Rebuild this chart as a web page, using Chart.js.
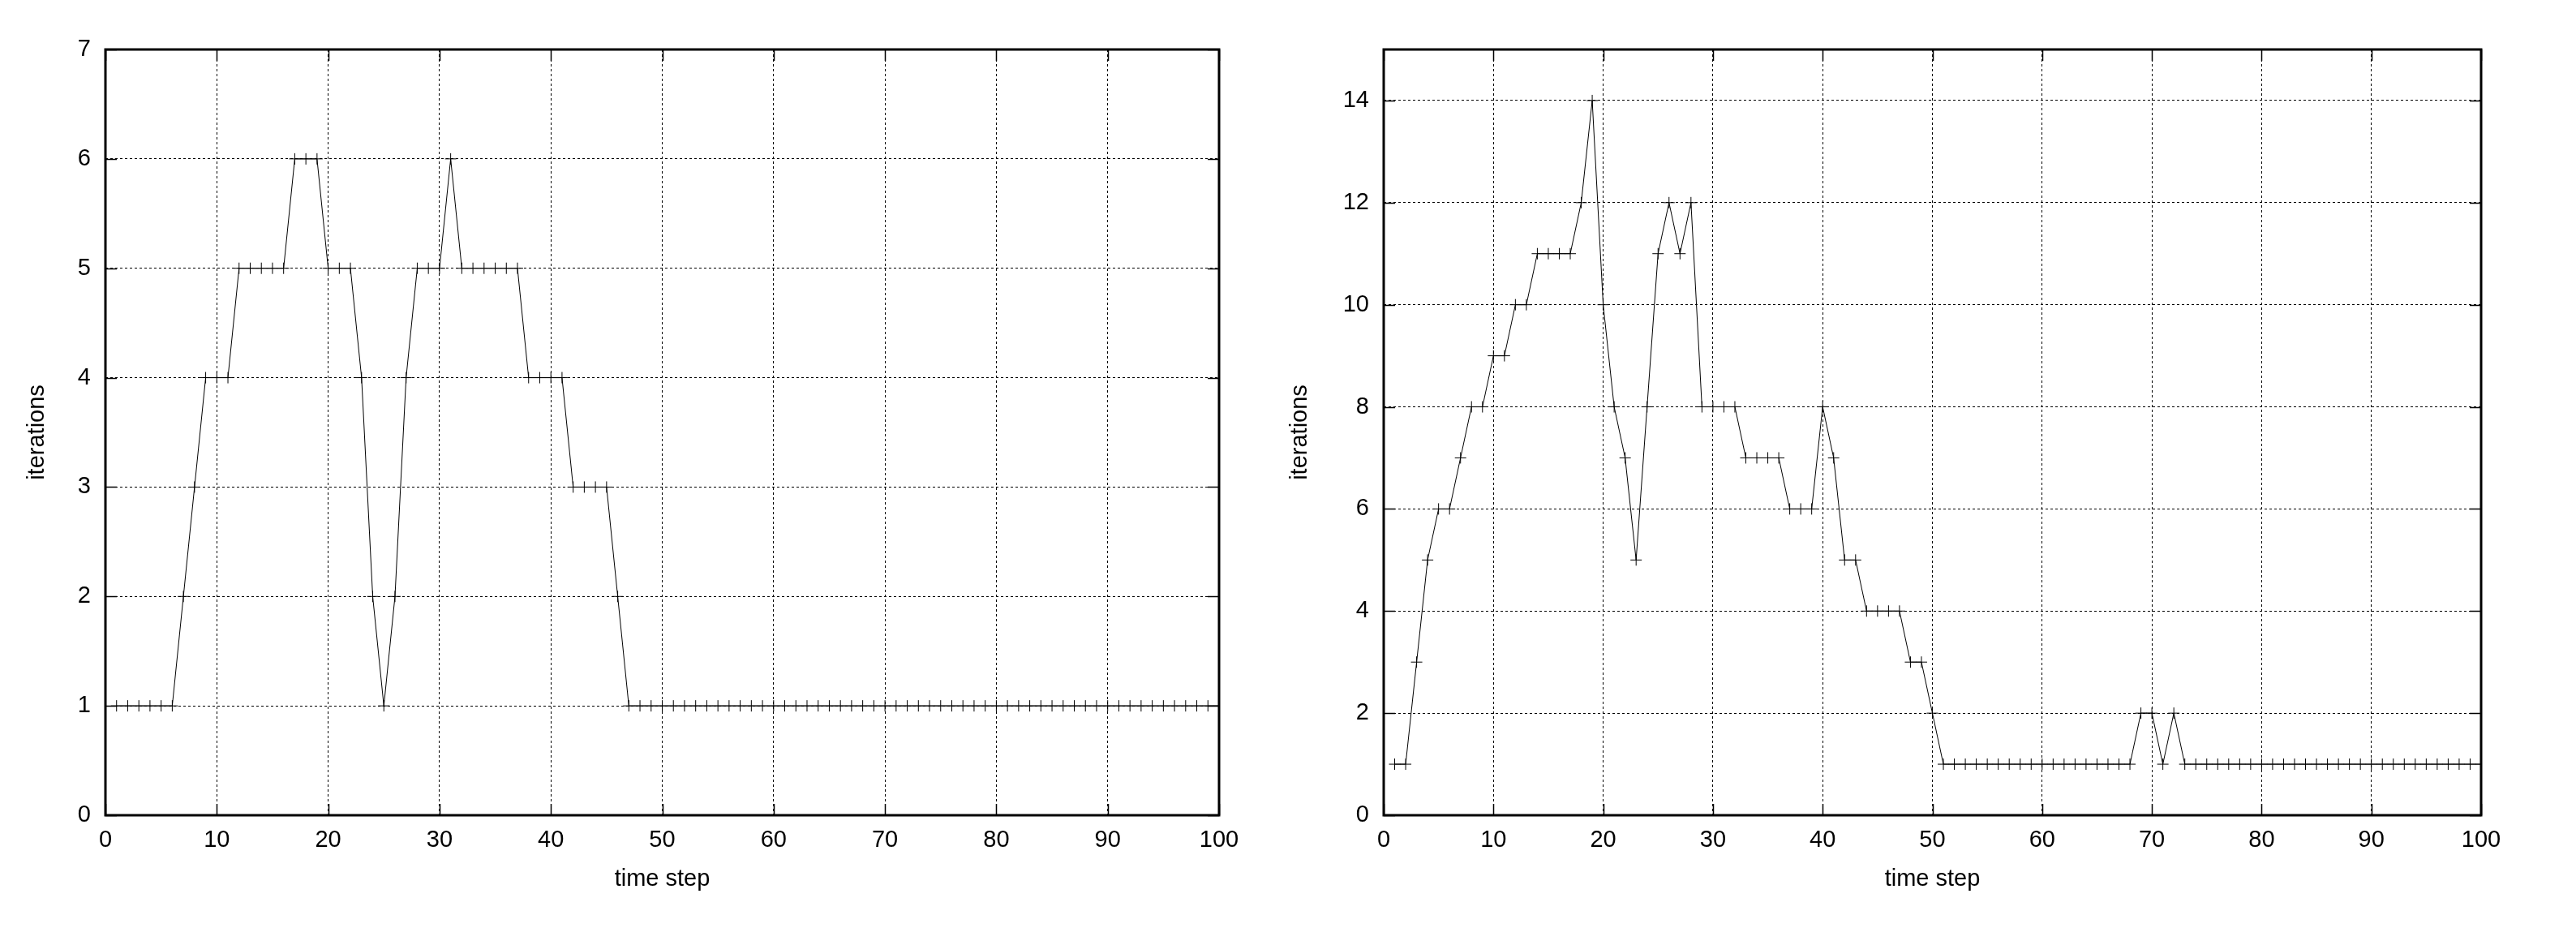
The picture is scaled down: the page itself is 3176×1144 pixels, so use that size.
<!DOCTYPE html>
<html>
<head>
<meta charset="utf-8">
<script src="https://cdn.jsdelivr.net/npm/chart.js@4/dist/chart.umd.min.js"></script>
<style>
    body { margin: 0; background: #fff; }
    #wrap { position: relative; width: 3176px; height: 1144px; }
    canvas { position: absolute; top: 0; }
    #left { left: 0; }
    #right { left: 1560px; }
</style>
</head>
<body>
<div id="wrap">
    <canvas id="left" width="1560" height="1144"></canvas>
    <canvas id="right" width="1616" height="1144"></canvas>
</div>
<script>
// iterations per time step (steps 1..100)
const leftIterations = [
    1, 1, 1, 1, 1, 1, 2, 3, 4, 4,
    4, 5, 5, 5, 5, 5, 6, 6, 6, 5,
    5, 5, 4, 2, 1, 2, 4, 5, 5, 5,
    6, 5, 5, 5, 5, 5, 5, 4, 4, 4,
    4, 3, 3, 3, 3, 2, 1, 1, 1, 1,
    1, 1, 1, 1, 1, 1, 1, 1, 1, 1,
    1, 1, 1, 1, 1, 1, 1, 1, 1, 1,
    1, 1, 1, 1, 1, 1, 1, 1, 1, 1,
    1, 1, 1, 1, 1, 1, 1, 1, 1, 1,
    1, 1, 1, 1, 1, 1, 1, 1, 1, 1
];
const rightIterations = [
    1, 1, 3, 5, 6, 6, 7, 8, 8, 9,
    9, 10, 10, 11, 11, 11, 11, 12, 14, 10,
    8, 7, 5, 8, 11, 12, 11, 12, 8, 8,
    8, 8, 7, 7, 7, 7, 6, 6, 6, 8,
    7, 5, 5, 4, 4, 4, 4, 3, 3, 2,
    1, 1, 1, 1, 1, 1, 1, 1, 1, 1,
    1, 1, 1, 1, 1, 1, 1, 1, 2, 2,
    1, 2, 1, 1, 1, 1, 1, 1, 1, 1,
    1, 1, 1, 1, 1, 1, 1, 1, 1, 1,
    1, 1, 1, 1, 1, 1, 1, 1, 1, 1
];

const xTicks = [0, 10, 20, 30, 40, 50, 60, 70, 80, 90, 100];
const leftYTicks = [0, 1, 2, 3, 4, 5, 6, 7];
const rightYTicks = [0, 2, 4, 6, 8, 10, 12, 14];

const FONT = { family: '"Liberation Sans", Arial, sans-serif', size: 29 };

// gnuplot-like border with inward tics on all four sides
const framePlugin = {
    id: 'frame',
    afterDraw(chart) {
        const { ctx, chartArea: a, scales } = chart;
        const len = 14;
        ctx.save();
        ctx.strokeStyle = '#000';
        ctx.lineWidth = 1.5;
        ctx.beginPath();
        scales.x.ticks.forEach(t => {
            const px = Math.round(scales.x.getPixelForValue(t.value)) + 0.5;
            ctx.moveTo(px, a.bottom); ctx.lineTo(px, a.bottom - len);
            ctx.moveTo(px, a.top); ctx.lineTo(px, a.top + len);
        });
        scales.y.ticks.forEach(t => {
            const py = Math.round(scales.y.getPixelForValue(t.value)) + 0.5;
            ctx.moveTo(a.left, py); ctx.lineTo(a.left + len, py);
            ctx.moveTo(a.right, py); ctx.lineTo(a.right - len, py);
        });
        ctx.stroke();
        ctx.lineWidth = 3;
        ctx.strokeRect(a.left, a.top, a.right - a.left, a.bottom - a.top);
        ctx.restore();
    }
};

function makeChart(id, values, yTicks, yMax, yAxisWidth, padRight, titlePad) {
    const points = values.map((v, i) => ({ x: i + 1, y: v }));
    return new Chart(document.getElementById(id), {
        type: 'line',
        data: {
            datasets: [{
                data: points,
                borderColor: '#000',
                borderWidth: 1,
                pointStyle: 'cross',
                pointRadius: 7,
                pointBorderColor: '#000',
                pointBorderWidth: 1,
                fill: false,
                tension: 0
            }]
        },
        options: {
            responsive: false,
            devicePixelRatio: 1,
            animation: false,
            layout: { padding: { top: 61, right: padRight, left: 0, bottom: 0 } },
            plugins: { legend: { display: false }, tooltip: { enabled: false } },
            scales: {
                x: {
                    type: 'linear',
                    min: 0,
                    max: 100,
                    afterBuildTicks: axis => { axis.ticks = xTicks.map(v => ({ value: v })); },
                    afterFit: axis => { axis.height = 139; },
                    ticks: { color: '#000', font: FONT, padding: 14, maxRotation: 0 },
                    grid: { color: '#000', lineWidth: 1, drawTicks: false },
                    border: { display: false, dash: [3, 3] },
                    title: {
                        display: true,
                        text: 'time step',
                        color: '#000',
                        font: FONT,
                        padding: { top: 0, bottom: 43 }
                    }
                },
                y: {
                    type: 'linear',
                    min: 0,
                    max: yMax,
                    afterBuildTicks: axis => { axis.ticks = yTicks.map(v => ({ value: v })); },
                    afterFit: axis => { axis.width = yAxisWidth; },
                    ticks: { color: '#000', font: FONT, padding: 18 },
                    grid: { color: '#000', lineWidth: 1, drawTicks: false },
                    border: { display: false, dash: [3, 3] },
                    title: {
                        display: true,
                        text: 'iterations',
                        color: '#000',
                        font: FONT,
                        padding: { top: titlePad, bottom: 0 }
                    }
                }
            }
        },
        plugins: [framePlugin]
    });
}

makeChart('left', leftIterations, leftYTicks, 7, 130, 57, 29);
makeChart('right', rightIterations, rightYTicks, 15, 146, 117, 26);
</script>
</body>
</html>
